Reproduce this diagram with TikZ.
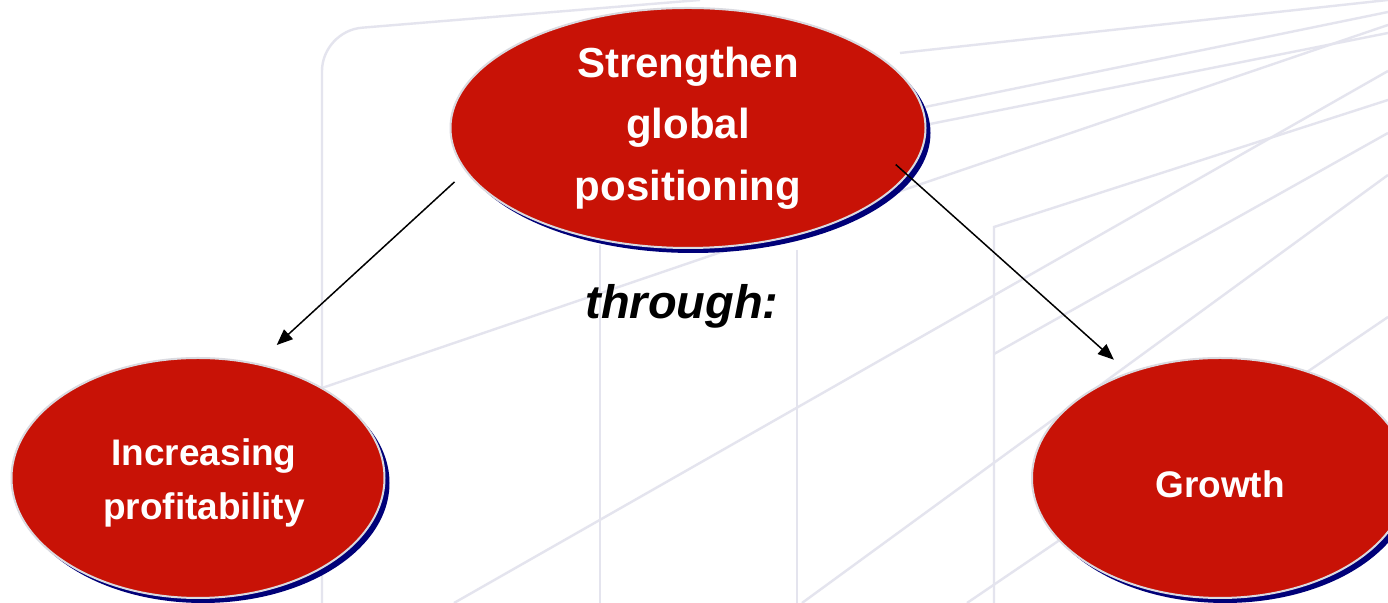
\documentclass[tikz,border=0pt]{standalone}
\usepackage{fontspec}
\setmainfont{Liberation Sans}
\usetikzlibrary{shapes.geometric, shadows, arrows.meta}
\definecolor{discred}{RGB}{200,18,6}
\definecolor{discnavy}{RGB}{0,0,120}
\definecolor{discrim}{RGB}{218,218,224}
\definecolor{plank}{RGB}{228,228,238}

\begin{document}
\begin{tikzpicture}[x=0.5pt,y=0.5pt,
  disc/.style={ellipse, fill=discred, draw=discrim, line width=1pt,
    inner sep=0pt, outer sep=0pt, text=white, align=center,
    drop shadow={shadow xshift=2.5pt, shadow yshift=-2.5pt, fill=discnavy, opacity=1}},
  link/.style={-{Triangle[length=8pt,width=6.5pt]}, line width=0.75pt}]
\useasboundingbox (0,0) rectangle (1388,603);
\fill[white] (0,0) rectangle (1388,603);

% faint planks behind
\begin{scope}[draw=plank, line width=1.2pt]
\clip (0,0) rectangle (1388,603);
\draw[rounded corners=20pt] (322,0) -- (322,572) -- (700,603);
\draw (600,0) -- (600,358);
\draw (797,0) -- (797,353);
\draw (994,0) -- (994,376) -- (1388,503);
\draw (994,249) -- (1388,470);
\draw (322,215) -- (1388,578);
\draw (454,0) -- (1388,532);
\draw (802,0) -- (1388,428);
\draw (967,0) -- (1388,286);
\draw (900,550) -- (1388,603);
\draw (925,496) -- (1388,591);
\draw (925,478) -- (1388,570);
\end{scope}

\node[disc, minimum width=237.5pt, minimum height=120pt,
  font=\bfseries\fontsize{21}{30.75}\selectfont] (strength) at (688,475)
  {Strengthen\\global\\positioning};
\node[disc, minimum width=186.5pt, minimum height=120pt, text height=45.5pt,
  font=\bfseries\fontsize{18.5}{27}\selectfont] (profit) at (198,125)
  {\hspace*{6pt}Increasing\\\hspace*{6pt}profitability};
\node[disc, minimum width=188pt, minimum height=120pt, text height=20pt,
  font=\bfseries\fontsize{18.5}{27}\selectfont] (growth) at (1220,125)
  {Growth};
\node[font=\bfseries\itshape\fontsize{23.5}{28}\selectfont] (through) at (682,297) {through:};

\draw[link, shorten <=8pt, shorten >=14pt] (strength.191.35) -- (profit.63.4);
\draw[link, shorten <=-7.5pt, shorten >=10pt] (strength.348.67) -- (growth.131.76);
%\draw (through) -- (strength);
\end{tikzpicture}
\end{document}
